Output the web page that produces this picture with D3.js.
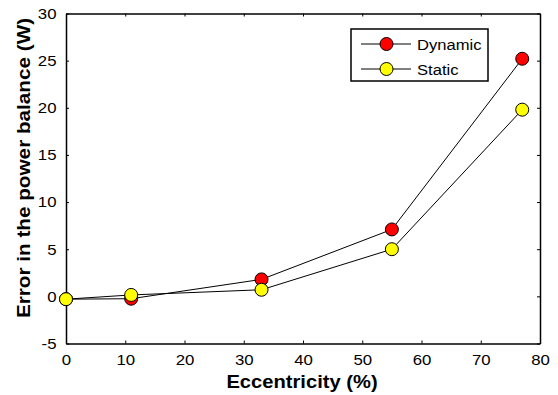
<!DOCTYPE html>
<html>
<head>
<meta charset="utf-8">
<script src="https://cdn.jsdelivr.net/npm/d3@7"></script>
<style>
  html, body { margin: 0; padding: 0; background: #fff; }
  svg { display: block; font-family: Arial, "Liberation Sans", sans-serif; }
</style>
</head>
<body>
<svg id="chart" width="558" height="395"></svg>
<script>
// Eccentricity (%) on the x axis
const eccentricity = [0, 11, 33, 55, 77];
// Error in the power balance (W)
const dynamicErr = [-0.3, -0.25, 1.8, 7.1, 25.2];
const staticErr = [-0.3, 0.15, 0.7, 5.0, 19.8];
const xTicks = [0, 10, 20, 30, 40, 50, 60, 70, 80];
const yTicks = [-5, 0, 5, 10, 15, 20, 25, 30];
const seriesNames = ["Dynamic", "Static"];
const seriesColors = ["#ff0000", "#ffff00"];

const svg = d3.select("#chart");
const m = { left: 66, right: 540, top: 13.5, bottom: 343.5 };
const wide = "scale(1.12,1)"; // slightly wide lettering

const x = d3.scaleLinear().domain([0, 80]).range([m.left, m.right]);
const y = d3.scaleLinear().domain([-5, 30]).range([m.bottom, m.top]);

// Axes box with inward ticks on all four sides
const tickLen = 3;
const fmt = d => String(d);
const axes = [
  d3.axisBottom(x).tickValues(xTicks).tickSizeInner(-tickLen).tickSizeOuter(0).tickPadding(10.5).tickFormat(fmt),
  d3.axisTop(x).tickValues(xTicks).tickSizeInner(-tickLen).tickSizeOuter(0).tickFormat(""),
  d3.axisLeft(y).tickValues(yTicks).tickSizeInner(-tickLen).tickSizeOuter(0).tickPadding(8.5).tickFormat(fmt),
  d3.axisRight(y).tickValues(yTicks).tickSizeInner(-tickLen).tickSizeOuter(0).tickFormat("")
];
const transforms = [
  `translate(0,${m.bottom})`, `translate(0,${m.top})`,
  `translate(${m.left},0)`, `translate(${m.right},0)`
];
axes.forEach((ax, i) => {
  const g = svg.append("g").attr("transform", transforms[i]).call(ax);
  g.select(".domain").attr("stroke", "#000").attr("stroke-width", 1.5);
  g.selectAll(".tick line").attr("stroke", "#000").attr("stroke-width", 1);
  g.selectAll(".tick text").attr("fill", "#000").attr("font-size", 15)
    .attr("font-family", "Arial, 'Liberation Sans', sans-serif")
    .attr("transform", wide);
});

// Series lines and markers
const line = d3.line().x(d => x(d[0])).y(d => y(d[1]));
[dynamicErr, staticErr].forEach((vals, i) => {
  const pts = eccentricity.map((e, j) => [e, vals[j]]);
  svg.append("path").datum(pts).attr("d", line)
    .attr("fill", "none").attr("stroke", "#000").attr("stroke-width", 1);
});
[dynamicErr, staticErr].forEach((vals, i) => {
  svg.append("g").selectAll("circle").data(eccentricity.map((e, j) => [e, vals[j]]))
    .join("circle")
    .attr("cx", d => x(d[0])).attr("cy", d => y(d[1])).attr("r", 6.5)
    .attr("fill", seriesColors[i]).attr("stroke", "#000").attr("stroke-width", 1);
});

// Legend
const lg = svg.append("g");
lg.append("rect").attr("x", 351).attr("y", 29).attr("width", 137).attr("height", 52)
  .attr("fill", "#fff").attr("stroke", "#000").attr("stroke-width", 1.5);
seriesNames.forEach((name, i) => {
  const cy = 44 + i * 25;
  lg.append("line").attr("x1", 361).attr("x2", 411).attr("y1", cy).attr("y2", cy)
    .attr("stroke", "#000").attr("stroke-width", 1);
  lg.append("circle").attr("cx", 386.5).attr("cy", cy).attr("r", 6.5)
    .attr("fill", seriesColors[i]).attr("stroke", "#000").attr("stroke-width", 1);
  lg.append("text").attr("transform", `translate(417,${cy + 5.5}) scale(1.07,1)`)
    .attr("font-size", 15.5).attr("fill", "#000").text(name);
});

// Axis titles
svg.append("text").attr("transform", `translate(302,387.5) ${wide}`)
  .attr("text-anchor", "middle").attr("font-size", 18).attr("font-weight", "bold")
  .text("Eccentricity (%)");
svg.append("text").attr("transform", `translate(29.5,168) rotate(-90) ${wide}`)
  .attr("text-anchor", "middle").attr("font-size", 18.5).attr("font-weight", "bold")
  .text("Error in the power balance (W)");
</script>
</body>
</html>
